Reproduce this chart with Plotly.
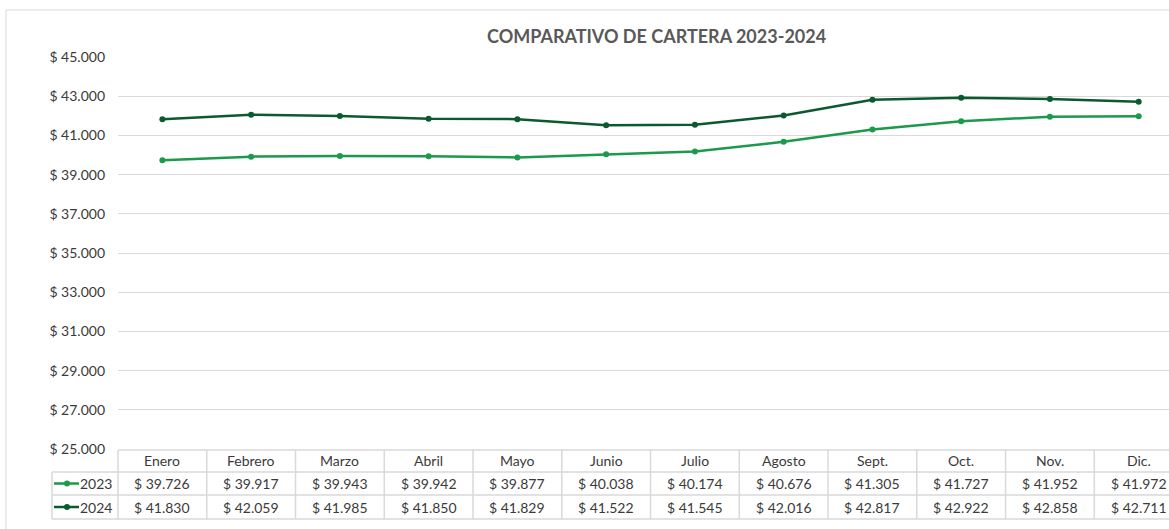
import plotly.graph_objects as go

months = ["Enero", "Febrero", "Marzo", "Abril", "Mayo", "Junio", "Julio",
          "Agosto", "Sept.", "Oct.", "Nov.", "Dic."]
v2023 = [39726, 39917, 39943, 39942, 39877, 40038, 40174, 40676, 41305, 41727, 41952, 41972]
v2024 = [41830, 42059, 41985, 41850, 41829, 41522, 41545, 42016, 42817, 42922, 42858, 42711]
tick_vals = [25000, 27000, 29000, 31000, 33000, 35000, 37000, 39000, 41000, 43000, 45000]
title = "COMPARATIVO DE CARTERA 2023-2024"

C23 = "#1a9a4a"
C24 = "#0b5a2f"
GRID = "#d9d9d9"
TXT = "#3a3a3a"
FONT = "Lato"

def money(v):
    return "$ " + f"{v:,}".replace(",", ".")

W, H = 1169, 529
L, R, T, B = 118, 0, 57, 80
pw, ph = W - L - R, H - T - B

def px(xp):
    return (xp - L) / pw

def py(yp):
    return (H - B - yp) / ph

xs = list(range(len(months)))
fig = go.Figure()
fig.add_trace(go.Scatter(x=xs, y=v2023, mode="lines+markers", name="2023",
                         line=dict(color=C23, width=2.5), marker=dict(size=6, color=C23),
                         cliponaxis=False))
fig.add_trace(go.Scatter(x=xs, y=v2024, mode="lines+markers", name="2024",
                         line=dict(color=C24, width=2.5), marker=dict(size=6, color=C24),
                         cliponaxis=False))

shapes = []
ann = []
# outer border (left and top)
shapes.append(dict(type="line", xref="paper", yref="paper", x0=px(6), x1=px(W), y0=py(10), y1=py(10),
                   line=dict(color=GRID, width=1)))
shapes.append(dict(type="line", xref="paper", yref="paper", x0=px(6), x1=px(6), y0=py(10), y1=py(H),
                   line=dict(color=GRID, width=1)))
# table horizontal lines
row_y = [450, 472, 495, 519]
shapes.append(dict(type="line", xref="paper", yref="paper", x0=px(118), x1=px(W), y0=py(row_y[0]), y1=py(row_y[0]),
                   line=dict(color=GRID, width=1.5)))
for ry in row_y[1:]:
    shapes.append(dict(type="line", xref="paper", yref="paper", x0=px(52), x1=px(W), y0=py(ry), y1=py(ry),
                       line=dict(color=GRID, width=1.5)))
shapes.append(dict(type="line", xref="paper", yref="paper", x0=px(52), x1=px(52), y0=py(row_y[1]), y1=py(row_y[3]),
                   line=dict(color=GRID, width=1.5)))
shapes.append(dict(type="line", xref="paper", yref="paper", x0=px(118), x1=px(118), y0=py(row_y[0]), y1=py(row_y[3]),
                   line=dict(color=GRID, width=1.5)))
for i in range(1, len(months)):
    shapes.append(dict(type="line", xref="x", yref="paper", x0=i - 0.5, x1=i - 0.5,
                       y0=py(row_y[0]), y1=py(row_y[3]), line=dict(color=GRID, width=1.5)))

text_y = [461, 483.5, 507]
tf = dict(family=FONT, size=14, color=TXT)
for i, m in enumerate(months):
    ann.append(dict(x=i, y=py(text_y[0]), xref="x", yref="paper", text=m, showarrow=False,
                    xanchor="center", yanchor="middle", font=tf))
    ann.append(dict(x=i, y=py(text_y[1]), xref="x", yref="paper", text=money(v2023[i]), showarrow=False,
                    xanchor="center", yanchor="middle", font=tf))
    ann.append(dict(x=i, y=py(text_y[2]), xref="x", yref="paper", text=money(v2024[i]), showarrow=False,
                    xanchor="center", yanchor="middle", font=tf))

# legend keys in table
for name, col, ty in (("2023", C23, text_y[1]), ("2024", C24, text_y[2])):
    shapes.append(dict(type="line", xref="paper", yref="paper", x0=px(54), x1=px(79), y0=py(ty), y1=py(ty),
                       line=dict(color=col, width=2.5)))
    shapes.append(dict(type="circle", xref="paper", yref="paper", x0=px(64), x1=px(70),
                       y0=py(ty + 3), y1=py(ty - 3), fillcolor=col, line=dict(color=col, width=0)))
    ann.append(dict(x=px(78), y=py(ty), xref="paper", yref="paper", text=name, showarrow=False,
                    xanchor="left", yanchor="middle", font=tf))

ann.append(dict(x=px(656), y=py(36), xref="paper", yref="paper", text="<b>" + title + "</b>",
                showarrow=False, xanchor="center", yanchor="middle",
                font=dict(family=FONT, size=18, color="#595959")))

fig.update_layout(
    width=W, height=H, margin=dict(l=L, r=R, t=T, b=B),
    paper_bgcolor="white", plot_bgcolor="white", showlegend=False,
    shapes=shapes, annotations=ann,
    xaxis=dict(range=[-0.5, (W - 163) / 88.7], showgrid=False, showticklabels=False,
               zeroline=False, showline=False, fixedrange=True),
    yaxis=dict(range=[25000, 45000], tickvals=tick_vals, ticktext=[money(v) for v in tick_vals],
               showgrid=True, gridcolor=GRID, gridwidth=1, zeroline=False, showline=False,
               ticks="", ticklabelstandoff=12, tickfont=tf),
)

fig.write_html("out.html", config={"displayModeBar": False},
               post_script="document.body.style.margin='0';document.body.style.overflow='hidden';")
